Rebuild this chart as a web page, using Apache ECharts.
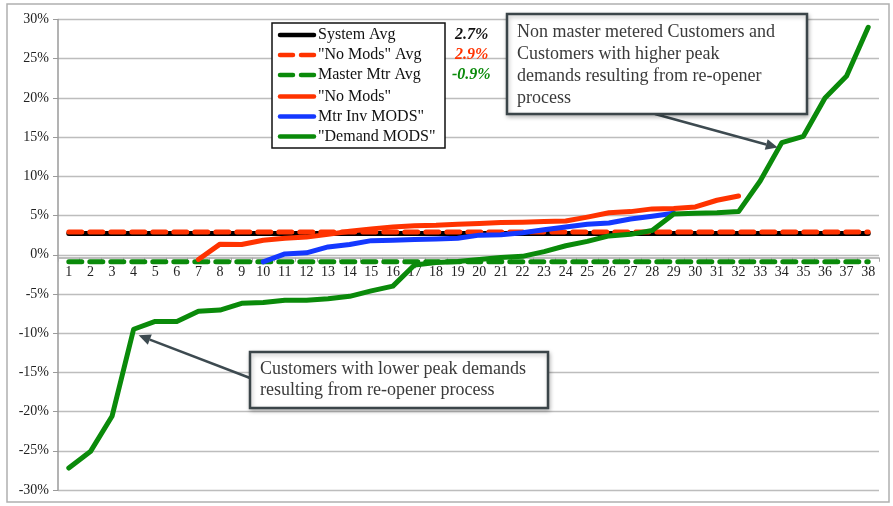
<!DOCTYPE html>
<html>
<head>
<meta charset="utf-8">
<script src="https://cdn.jsdelivr.net/npm/echarts@6/dist/echarts.min.js"></script>
<style>
  html, body { margin: 0; padding: 0; background: #fff; }
  #chart { width: 893px; height: 506px; }
</style>
</head>
<body>
<div id="chart"></div>
<script>
// Customer rank on the category axis
const categories = ['1','2','3','4','5','6','7','8','9','10','11','12','13','14','15','16','17','18','19',
  '20','21','22','23','24','25','26','27','28','29','30','31','32','33','34','35','36','37','38'];

// Average rate changes (%)
const systemAvg = 2.7;
const noModsAvg = 2.9;
const masterMtrAvg = -0.9;

// Per-customer rate change (%)
const noMods = [null, null, null, null, null, null,
  -0.6, 1.35, 1.3, 1.85, 2.1, 2.25, 2.6, 3.0, 3.3, 3.55, 3.7, 3.75, 3.9, 4.0,
  4.1, 4.15, 4.25, 4.3, 4.8, 5.35, 5.5, 5.85, 5.9, 6.1, 6.95, 7.5,
  null, null, null, null, null, null];

const mtrInvMods = [null, null, null, null, null, null, null, null, null,
  -0.9, 0.1, 0.25, 1.0, 1.3, 1.8, 1.85, 1.95, 2.0, 2.1, 2.5,
  2.55, 2.8, 3.2, 3.55, 3.9, 4.05, 4.55, 4.9, 5.3,
  null, null, null, null, null, null, null, null, null];

const demandMods = [-27.2, -25.1, -20.6, -9.5, -8.5, -8.5, -7.2, -7.05, -6.2, -6.1,
  -5.8, -5.8, -5.6, -5.3, -4.6, -4.0, -1.3, -1.0, -0.85, -0.6,
  -0.35, -0.2, 0.4, 1.15, 1.7, 2.4, 2.6, 3.1, 5.2, 5.3,
  5.35, 5.5, 9.4, 14.3, 15.1, 20.0, 22.8, 29.0];

const yTicks = { min: -30, max: 30, step: 5 };

const RED = '#ff3300';
const GREEN = '#0a8a0a';
const BLUE = '#1438ff';
const SERIF = '"Liberation Serif", "Times New Roman", serif';
const DASH = [13, 8];

const chart = echarts.init(document.getElementById('chart'), null, { renderer: 'canvas' });

function lineSeries(name, data, color, dashed) {
  return {
    name: name,
    type: 'line',
    data: data,
    symbol: 'none',
    animation: false,
    lineStyle: { color: color, width: 5, type: dashed ? DASH : 'solid', cap: 'round', join: 'round' },
    itemStyle: { color: color }
  };
}

const seriesDefs = [
  { name: 'System Avg', data: categories.map(() => systemAvg), color: '#000', dashed: false },
  { name: '"No Mods" Avg', data: categories.map(() => noModsAvg), color: RED, dashed: true },
  { name: 'Master Mtr Avg', data: categories.map(() => masterMtrAvg), color: GREEN, dashed: true },
  { name: '"No Mods"', data: noMods, color: RED, dashed: false },
  { name: 'Mtr Inv MODS"', data: mtrInvMods, color: BLUE, dashed: false },
  { name: '"Demand MODS"', data: demandMods, color: GREEN, dashed: false }
];

const option = {
  animation: false,
  backgroundColor: '#fff',
  grid: { left: 58, right: 14, top: 19.5, bottom: 16, containLabel: false },
  xAxis: {
    type: 'category',
    data: categories,
    boundaryGap: true,
    position: 'bottom',
    axisLine: { onZero: false, lineStyle: { color: '#a8a8a8', width: 1.5 } },
    axisTick: { show: true, alignWithLabel: false, length: 4, lineStyle: { color: '#a8a8a8' } },
    axisLabel: { fontFamily: SERIF, fontSize: 14, color: '#222', margin: 8, interval: 0 },
    splitLine: { show: false }
  },
  yAxis: {
    type: 'value',
    min: yTicks.min,
    max: yTicks.max,
    interval: yTicks.step,
    axisLine: { show: true, lineStyle: { color: '#9a9a9a', width: 1.5 } },
    axisTick: { show: true, inside: false, length: 5, lineStyle: { color: '#9a9a9a' } },
    axisLabel: { fontFamily: SERIF, fontSize: 14, color: '#222', margin: 9, formatter: '{value}%' },
    splitLine: { show: true, lineStyle: { color: '#bdbdbd', width: 1.3 } }
  },
  series: seriesDefs.map(s => lineSeries(s.name, s.data, s.color, s.dashed))
};

chart.setOption(option);

// Place the category axis on the zero line of the value axis
const zeroY = chart.convertToPixel({ yAxisIndex: 0 }, 0);
const bottomY = chart.convertToPixel({ yAxisIndex: 0 }, yTicks.min);
chart.setOption({ xAxis: { offset: -(bottomY - zeroY) } });

// Callout arrow: shaft plus triangular head ending at `to`
function arrow(from, to, color) {
  const dx = to[0] - from[0], dy = to[1] - from[1];
  const len = Math.sqrt(dx * dx + dy * dy);
  const ux = dx / len, uy = dy / len;
  const headLen = 12, headHalf = 5.5;
  const bx = to[0] - ux * headLen, by = to[1] - uy * headLen;
  return [
    { type: 'line', z: 50, shape: { x1: from[0], y1: from[1], x2: bx, y2: by },
      style: { stroke: color, lineWidth: 2.5 } },
    { type: 'polygon', z: 50, shape: { points: [to, [bx - uy * headHalf, by + ux * headHalf], [bx + uy * headHalf, by - ux * headHalf]] },
      style: { fill: color } }
  ];
}

function callout(x, y, w, h, lines, lineHeight) {
  return [
    { type: 'rect', z: 60, shape: { x: x, y: y, width: w, height: h },
      style: { fill: '#fff', stroke: '#3b4549', lineWidth: 2.5, shadowBlur: 4, shadowColor: 'rgba(0,0,0,0.25)', shadowOffsetX: 1, shadowOffsetY: 2 } },
    { type: 'text', z: 61, x: x + 10, y: y + 7,
      style: { text: lines.join('\n'), font: '18px ' + SERIF, fill: '#3a3a3a', lineHeight: lineHeight, verticalAlign: 'top', align: 'left' } }
  ];
}

// Legend box with line swatches, drawn from the series definitions
function legendBox(x, y, w, h, rowY) {
  const items = [
    { type: 'rect', z: 65, shape: { x: x, y: y, width: w, height: h },
      style: { fill: '#fff', stroke: '#111', lineWidth: 1.5 } }
  ];
  seriesDefs.forEach((s, i) => {
    const cy = rowY[i];
    items.push({ type: 'line', z: 66, shape: { x1: x + 8, y1: cy, x2: x + 42, y2: cy },
      style: { stroke: s.color, lineWidth: 4.5, lineCap: 'round', lineDash: s.dashed ? [13, 8] : null } });
    items.push({ type: 'text', z: 66, x: x + 46, y: cy,
      style: { text: s.name, font: '16px ' + SERIF, fill: '#111', verticalAlign: 'middle', align: 'left' } });
  });
  return items;
}

const ARROW = '#3d4a50';
const lowPt = chart.convertToPixel({ gridIndex: 0 }, [categories[3], demandMods[3]]);
const highPt = chart.convertToPixel({ gridIndex: 0 }, [categories[33], demandMods[33]]);

const avgLabel = (v) => v.toFixed(1) + '%';
const avgFont = 'italic bold 16px ' + SERIF;

chart.setOption({
  graphic: [
    // outer frame
    { type: 'rect', z: 1, shape: { x: 7, y: 4, width: 882, height: 498 },
      style: { fill: 'none', stroke: '#b0b0b0', lineWidth: 1.5 } },
    ...legendBox(272, 23, 173, 125, [35, 55, 75, 96.5, 116.5, 136.5]),
    // average values beside the legend
    { type: 'text', z: 70, x: 455, y: 35, style: { text: avgLabel(systemAvg), font: avgFont, fill: '#111', verticalAlign: 'middle' } },
    { type: 'text', z: 70, x: 455, y: 55, style: { text: avgLabel(noModsAvg), font: avgFont, fill: RED, verticalAlign: 'middle' } },
    { type: 'text', z: 70, x: 452, y: 75, style: { text: avgLabel(masterMtrAvg), font: avgFont, fill: GREEN, verticalAlign: 'middle' } },
    ...arrow([655, 114], [highPt[0] - 4, highPt[1] + 5], ARROW),
    ...callout(507, 14, 300, 100, ['Non master metered Customers and', 'Customers with higher peak', 'demands resulting from re-opener', 'process'], 22),
    ...arrow([250, 378], [lowPt[0] + 5, lowPt[1] + 6], ARROW),
    ...callout(250, 352, 298, 56, ['Customers with lower peak demands', 'resulting from re-opener process'], 21)
  ]
});
</script>
</body>
</html>
